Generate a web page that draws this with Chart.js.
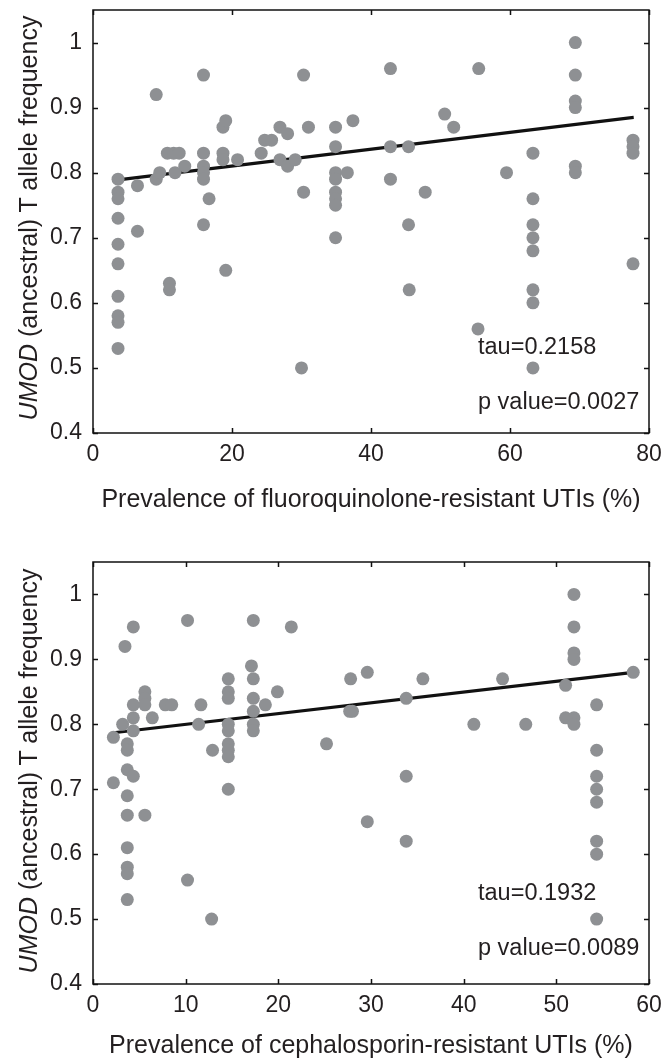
<!DOCTYPE html>
<html>
<head>
<meta charset="utf-8">
<script src="https://cdn.jsdelivr.net/npm/chart.js@4"></script>
<style>
  html, body { margin: 0; padding: 0; background: #fff; }
  #wrap { position: relative; width: 663px; height: 1064px; font-family: "Liberation Sans", Arial, sans-serif; color: #231f20; }
  canvas { position: absolute; left: 0; }
  .ytitle { position: absolute; white-space: nowrap; font-size: 25px; line-height: 1; transform: translate(-50%, -50%) rotate(-90deg); }
  .note { position: absolute; white-space: nowrap; font-size: 23.5px; line-height: 1; }
</style>
</head>
<body>
<div id="wrap">
  <canvas id="c1" width="663" height="532" style="top:0"></canvas>
  <canvas id="c2" width="663" height="532" style="top:532px"></canvas>
  <div class="ytitle" style="left:28px; top:218px;"><i>UMOD</i> (ancestral) T allele frequency</div>
  <div class="ytitle" style="left:28px; top:771px;"><i>UMOD</i> (ancestral) T allele frequency</div>
  <div class="note" style="left:478px; top:335px;">tau=0.2158</div>
  <div class="note" style="left:478px; top:390px;">p value=0.0027</div>
  <div class="note" style="left:478px; top:881px;">tau=0.1932</div>
  <div class="note" style="left:478px; top:936px;">p value=0.0089</div>
</div>
<script>
// ---- Panel 1: fluoroquinolone ----
const fqX = [
  3.6,3.6,3.6,3.6,3.6,3.6,3.6,3.6,3.6,3.6,
  6.4,6.4, 9.1,9.1, 9.6, 10.7, 11.0,11.0, 11.6, 11.8, 12.4, 13.2,
  15.9,15.9,15.9,15.9,15.9,15.9, 16.7,
  18.7,18.7,18.7, 19.1,19.1, 20.8, 24.2, 24.7, 25.7,
  26.9,26.9, 28.0,28.0, 29.1, 30.0, 30.3,30.3, 31.0,
  34.9,34.9,34.9,34.9,34.9,34.9,34.9,34.9, 36.6, 37.4,
  42.8,42.8,42.8, 45.4,45.4, 45.5, 47.8, 50.6, 51.9, 55.4, 55.5, 59.5,
  63.3,63.3,63.3,63.3,63.3,63.3,63.3,63.3,
  69.4,69.4,69.4,69.4,69.4,69.4,
  77.7,77.7,77.7,77.7
];
const fqY = [
  0.79,0.77,0.76,0.73,0.69,0.66,0.61,0.58,0.57,0.53,
  0.78,0.71, 0.92,0.79, 0.80, 0.83, 0.63,0.62, 0.83, 0.80, 0.83, 0.81,
  0.95,0.83,0.81,0.80,0.79,0.72, 0.76,
  0.87,0.83,0.82, 0.88,0.65, 0.82, 0.83, 0.85, 0.85,
  0.87,0.82, 0.86,0.81, 0.82, 0.50, 0.95,0.77, 0.87,
  0.87,0.84,0.80,0.79,0.77,0.76,0.75,0.70, 0.80, 0.88,
  0.96,0.84,0.79, 0.84,0.72, 0.62, 0.77, 0.89, 0.87, 0.56, 0.96, 0.80,
  0.83,0.76,0.72,0.70,0.68,0.62,0.60,0.50,
  1.00,0.95,0.91,0.90,0.81,0.80,
  0.85,0.84,0.83,0.66
];
const fqFitX = [3.6, 77.8];
const fqFitY = [0.789, 0.885];
const fqXTicks = [0, 20, 40, 60, 80];

// ---- Panel 2: cephalosporin ----
const cpX = [
  2.2,2.2, 3.2, 3.45,
  3.7,3.7,3.7,3.7,3.7,3.7,3.7,3.7,3.7,
  4.35,4.35,4.35,4.35,4.35,
  5.6,5.6,5.6,5.6, 6.4, 7.8, 8.5, 10.2,10.2, 11.4, 11.65, 12.8, 12.9,
  14.6,14.6,14.6,14.6,14.6,14.6,14.6,14.6,14.6,
  17.1, 17.3,17.3,17.3,17.3,17.3,17.3, 18.6, 19.9, 21.4, 25.2,
  27.7, 27.8, 28.0, 29.6,29.6, 33.8,33.8,33.8, 35.6, 41.1, 44.2, 46.7,
  51.0,51.0,
  51.9,51.9,51.9,51.9,51.9,51.9,
  54.35,54.35,54.35,54.35,54.35,54.35,54.35,54.35,
  58.3
];
const cpY = [
  0.78,0.71, 0.80, 0.92,
  0.77,0.76,0.73,0.69,0.66,0.61,0.58,0.57,0.53,
  0.95,0.83,0.81,0.79,0.72,
  0.85,0.84,0.83,0.66, 0.81, 0.83, 0.83, 0.96,0.56, 0.80, 0.83, 0.50, 0.76,
  0.87,0.85,0.84,0.80,0.79,0.77,0.76,0.75,0.70,
  0.89, 0.96,0.87,0.84,0.82,0.80,0.79, 0.83, 0.85, 0.95, 0.77,
  0.82, 0.87, 0.82, 0.88,0.65, 0.84,0.72,0.62, 0.87, 0.80, 0.87, 0.80,
  0.86,0.81,
  1.00,0.95,0.91,0.90,0.81,0.80,
  0.83,0.76,0.72,0.70,0.68,0.62,0.60,0.50,
  0.88
];
const cpFitX = [2.2, 58.3];
const cpFitY = [0.787, 0.880];
const cpXTicks = [0, 10, 20, 30, 40, 50, 60];

const yTicks = [0.4, 0.5, 0.6, 0.7, 0.8, 0.9, 1.0];
const yTickLabels = ['0.4', '0.5', '0.6', '0.7', '0.8', '0.9', '1'];
const yMin = 0.4, yMax = 1.05;

const TEXT = '#231f20';
const DOT = '#8e9093';
const FONT = '"Liberation Sans", Arial, sans-serif';

const framePlugin = {
  id: 'frame',
  afterDraw(chart) {
    const { ctx, chartArea: a, scales: { x, y } } = chart;
    ctx.save();
    ctx.strokeStyle = '#111';
    ctx.lineWidth = 1.5;
    ctx.strokeRect(a.left, a.top, a.right - a.left, a.bottom - a.top);
    const L = 5;
    ctx.beginPath();
    x.ticks.forEach(t => {
      const px = Math.round(x.getPixelForValue(t.value)) + 0.5;
      ctx.moveTo(px, a.bottom); ctx.lineTo(px, a.bottom - L);
      ctx.moveTo(px, a.top); ctx.lineTo(px, a.top + L);
    });
    y.ticks.forEach(t => {
      const py = Math.round(y.getPixelForValue(t.value)) + 0.5;
      ctx.moveTo(a.left, py); ctx.lineTo(a.left + L, py);
      ctx.moveTo(a.right, py); ctx.lineTo(a.right - L, py);
    });
    ctx.stroke();
    ctx.restore();
  }
};

function makeChart(id, xs, ys, fitX, fitY, xTicks, xTitle, padTop, xScaleH, padBottom) {
  const pts = xs.map((v, i) => ({ x: v, y: ys[i] }));
  const fit = fitX.map((v, i) => ({ x: v, y: fitY[i] }));
  return new Chart(document.getElementById(id), {
    type: 'scatter',
    data: {
      datasets: [
        { data: pts, backgroundColor: DOT, borderWidth: 0, pointRadius: 6.5, pointHoverRadius: 6.5 },
        { type: 'line', data: fit, borderColor: '#111', borderWidth: 3.2, pointRadius: 0, fill: false }
      ]
    },
    options: {
      responsive: false,
      animation: false,
      events: [],
      layout: { padding: { top: padTop, right: 14, bottom: padBottom, left: 0 } },
      plugins: { legend: { display: false }, tooltip: { enabled: false } },
      scales: {
        x: {
          type: 'linear', min: xTicks[0], max: xTicks[xTicks.length - 1],
          grid: { display: false, drawTicks: false },
          border: { display: false },
          afterBuildTicks: s => { s.ticks = xTicks.map(v => ({ value: v })); },
          afterFit: s => { s.height = xScaleH; s.paddingLeft = 0; s.paddingRight = 0; },
          ticks: { color: TEXT, font: { family: FONT, size: 23 }, padding: 8, maxRotation: 0,
                   callback: (v) => String(v) },
          title: { display: true, text: xTitle, color: TEXT, font: { family: FONT, size: 25 }, padding: 0 }
        },
        y: {
          type: 'linear', min: yMin, max: yMax,
          grid: { display: false, drawTicks: false },
          border: { display: false },
          afterBuildTicks: s => { s.ticks = yTicks.map(v => ({ value: v })); },
          afterFit: s => { s.width = 93; s.paddingTop = 0; s.paddingBottom = 0; },
          ticks: { color: TEXT, font: { family: FONT, size: 23 }, padding: 11,
                   callback: (v, i) => yTickLabels[i] }
        }
      }
    },
    plugins: [framePlugin]
  });
}

makeChart('c1', fqX, fqY, fqFitX, fqFitY, fqXTicks,
  'Prevalence of fluoroquinolone-resistant UTIs (%)', 10, 82, 17);
makeChart('c2', cpX, cpY, cpFitX, cpFitY, cpXTicks,
  'Prevalence of cephalosporin-resistant UTIs (%)', 30, 77, 3);
</script>
</body>
</html>
